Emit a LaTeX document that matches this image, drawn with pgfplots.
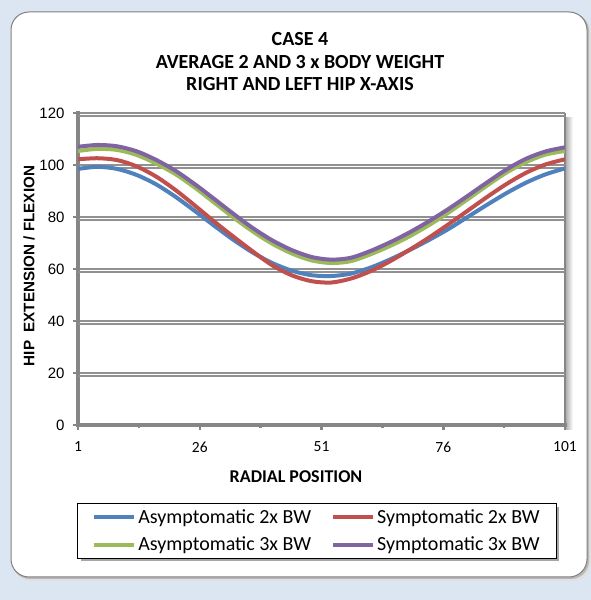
\documentclass[border=0pt]{standalone}
\usepackage{pgfplots}
\pgfplotsset{compat=1.18}
\usepackage{pgfplotstable}
\usepackage{fontspec}
\setmainfont{Carlito}
\newfontfamily\arialfont{Liberation Sans}

\definecolor{pagebg}{RGB}{220,230,242}
\definecolor{axisgray}{RGB}{134,134,134}
\definecolor{gridgray}{RGB}{145,145,145}
\definecolor{asym2}{RGB}{79,129,189}
\definecolor{sym2}{RGB}{192,80,77}
\definecolor{asym3}{RGB}{155,187,89}
\definecolor{sym3}{RGB}{128,100,162}

% hip x-axis angle against radial position
\pgfplotstableread{
x    a2     s2     a3     s3
1    98.5   102.2  105.4  107.0
5    99.3   102.6  106.2  107.7
9    98.5   101.9  105.8  107.2
13   96.2   99.5   103.9  105.3
17   92.6   95.6   100.6  102.0
21   87.8   90.4   96.5   97.8
25   82.3   84.4   91.3   92.6
29   76.6   78.2   85.5   86.9
33   71.1   72.3   79.7   81.1
37   66.2   66.6   74.3   75.6
41   62.2   61.3   69.6   70.9
45   59.3   57.5   65.9   67.2
49   57.6   55.3   63.3   64.6
53   57.3   54.8   62.3   63.6
57   58.2   56.3   63.0   64.3
61   60.5   59.1   65.6   66.9
65   63.6   62.9   68.8   70.2
69   67.2   67.3   72.5   74.0
73   71.1   72.0   76.8   78.3
77   75.3   77.1   81.6   83.0
81   80.0   82.4   86.8   88.1
85   84.7   87.7   92.1   93.3
89   89.2   92.7   97.1   98.3
93   93.2   97.0   101.1  102.4
97   96.4   100.2  104.0  105.2
101  98.7   102.2  105.4  106.8
}\hiptable

\begin{document}
\begin{tikzpicture}[x=1pt,y=1pt]
\useasboundingbox (0,0) rectangle (591,600);
\fill[pagebg] (0,0) rectangle (591,600);
% card with soft shadow
\fill[black!12, rounded corners=18pt] (13,19) rectangle (591,586);
\fill[black!28, rounded corners=18pt] (12,21) rectangle (589,587);
\fill[white, draw=black!50, line width=1pt, rounded corners=18pt] (11,23) rectangle (587,588);

% title
\node[font=\bfseries\fontsize{20}{22.5}\selectfont, align=center] at (300,538)
  {CASE 4\\AVERAGE 2 AND 3 x BODY WEIGHT\\RIGHT AND LEFT HIP X-AXIS};

% plot area right wall and its shadow
\shade[left color=black!30, right color=white] (566,170) rectangle (573,482);
\draw[axisgray, line width=2pt] (565,175) -- (565,487);

% legend shadow
\fill[black!35] (81,39) rectangle (559,93);

\begin{axis}[
  at={(78pt,175pt)}, anchor=south west,
  scale only axis, width=487pt, height=312pt,
  xmin=1, xmax=101, ymin=0, ymax=120,
  axis x line=bottom, axis y line=left,
  axis line style={-, draw=axisgray, line width=4pt, line cap=rect},
  xtick={1,26,51,76,101}, minor xtick={13.5,38.5,63.5,88.5},
  ytick={0,20,...,120},
  ymajorgrids,
  major grid style={draw=gridgray, line width=1.3pt},
  extra y ticks={18.8,38.8,58.8,78.8,98.8,118.8},
  extra y tick labels={},
  extra y tick style={grid style={draw=black!4, line width=4pt}, major tick length=0pt},
  /pgf/number format/assume math mode=true,
  yticklabel style={font=\arialfont\fontsize{15}{15}\selectfont, xshift=-5pt},
  xticklabel style={font=\fontsize{15.5}{16}\selectfont, yshift=-8pt},
  tick align=outside,
  major tick length=5pt, minor tick length=3pt,
  tick style={draw=axisgray, line width=2.5pt},
  legend columns=2,
  legend cell align=left,
  legend style={at={(axis description cs:0.4908,-0.3397)}, anchor=center,
    draw=black, line width=0.8pt, fill=white,
    font=\fontsize{20}{20}\selectfont,
    inner xsep=15pt, inner ysep=4pt, row sep=8pt,
    /tikz/every even column/.append style={column sep=18pt}},
  legend image code/.code={\draw[#1] (0pt,0pt) -- (40pt,0pt);},
]
\addplot[smooth, asym2, line width=4pt] table[x=x, y=a2] {\hiptable};
\addlegendentry{Asymptomatic 2x BW}
\addplot[smooth, sym2, line width=4pt] table[x=x, y=s2] {\hiptable};
\addlegendentry{Symptomatic 2x BW}
\addplot[smooth, asym3, line width=4pt] table[x=x, y=a3] {\hiptable};
\addlegendentry{Asymptomatic 3x BW}
\addplot[smooth, sym3, line width=4pt] table[x=x, y=s3] {\hiptable};
\addlegendentry{Symptomatic 3x BW}
\end{axis}

% axis titles
\node[rotate=90, font=\arialfont\bfseries\fontsize{15.2}{16}\selectfont] at (29,334)
  {HIP\ \ EXTENSION / FLEXION};
\node[font=\bfseries\fontsize{18}{18}\selectfont] at (296,123) {RADIAL POSITION};
\end{tikzpicture}
\end{document}
